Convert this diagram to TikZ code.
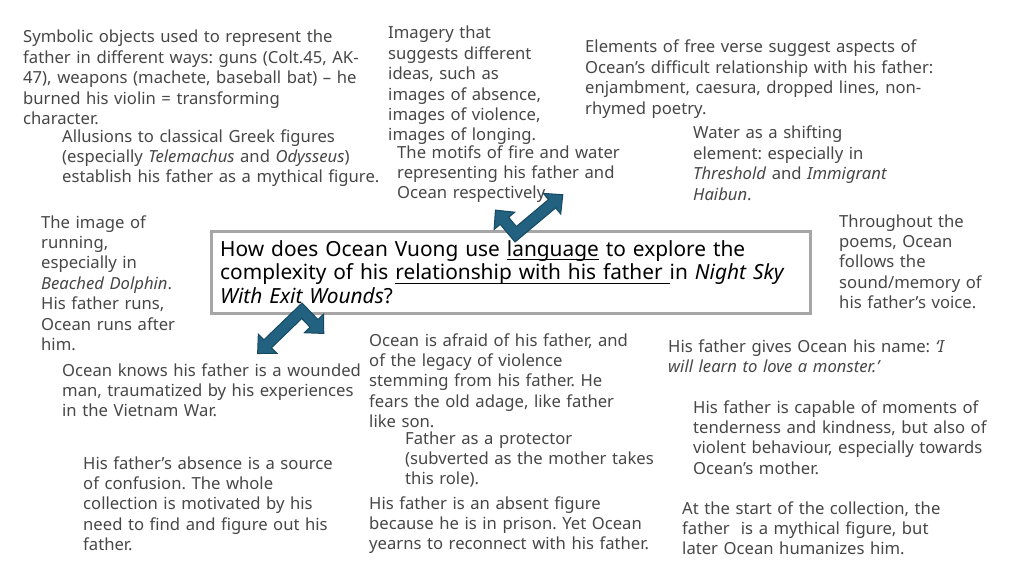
\documentclass[tikz,border=0pt]{standalone}
\usepackage{fontspec}
\setmainfont{Noto Sans}
\definecolor{txt}{HTML}{474747}
\definecolor{boxgray}{HTML}{A6A6A6}
\definecolor{arrfill}{HTML}{22617F}
\definecolor{arrline}{HTML}{174A62}
\newcommand{\bodyfont}{\frenchspacing\fontsize{16.65}{20.4}\selectfont}
\newcommand{\titlefont}{\frenchspacing\fontsize{20.85}{23.5}\selectfont}
\newcommand{\myul}[1]{\setbox0\hbox{#1}\rlap{\rule[-4pt]{\wd0}{0.9pt}}\box0{}}
\newcommand{\blockarrow}[3]{%
  \begin{scope}[shift={(#1,#2)}, x=1pt, y=1pt, rotate=#3]
    \draw[arrowshape] (0,0) -- (53,0) -- (53,-8) -- (67,5.5) -- (53,19) -- (53,11)
      -- (11,11) -- (11,23) -- (19,23) -- (5.5,37) -- (-8,23) -- (0,23) -- cycle;
  \end{scope}}
\begin{document}
\begin{tikzpicture}[x=1pt,y=-1pt,
  note/.style={anchor=base west, inner sep=0pt, text width=520pt, align=left, font=\bodyfont, text=txt},
  titletext/.style={anchor=base west, inner sep=0pt, text width=600pt, align=left, font=\titlefont, text=black},
  qbox/.style={draw=boxgray, line width=3pt, fill=white},
  arrowshape/.style={fill=arrfill, draw=arrline, line width=1pt, line join=miter}]
\useasboundingbox (0,0) rectangle (1024,575);
\fill[white] (0,0) rectangle (1024,575);

% question box
\draw[qbox] (211.5,231) rectangle (810,313);
\node[titletext] (q) at (220,256) {How does Ocean Vuong use \myul{language} to explore the\\
complexity of his \myul{relationship with his father\ }in \textit{Night Sky}\\
\textit{With Exit Wounds}?};

% notes
\node[note] (sym) at (23,43) {Symbolic objects used to represent the\\
father in different ways: guns (Colt.45, AK-\\
47), weapons (machete, baseball bat) – he\\
burned his violin = transforming\\
character.};
\node[note] (allu) at (62,142) {Allusions to classical Greek figures\\
(especially \textit{Telemachus} and \textit{Odysseus})\\
establish his father as a mythical figure.};
\node[note] (imag) at (388,39) {Imagery that\\
suggests different\\
ideas, such as\\
images of absence,\\
images of violence,\\
images of longing.};
\node[note] (motif) at (397,158) {The motifs of fire and water\\
representing his father and\\
Ocean respectively.};
\node[note] (elem) at (585,53) {Elements of free verse suggest aspects of\\
Ocean’s difficult relationship with his father:\\
enjambment, caesura, dropped lines, non-\\
rhymed poetry.};
\node[note] (water) at (693,139) {Water as a shifting\\
element: especially in\\
\textit{Threshold} and \textit{Immigrant}\\
\textit{Haibun}.};
\node[note] (run) at (41,228) {The image of\\
running,\\
especially in\\
\textit{Beached Dolphin}.\\
His father runs,\\
Ocean runs after\\
him.};
\node[note] (thru) at (839,227) {Throughout the\\
poems, Ocean\\
follows the\\
sound/memory of\\
his father’s voice.};
\node[note] (wound) at (62,376) {Ocean knows his father is a wounded\\
man, traumatized by his experiences\\
in the Vietnam War.};
\node[note] (afraid) at (369,346) {Ocean is afraid of his father, and\\
of the legacy of violence\\
stemming from his father. He\\
fears the old adage, like father\\
like son.};
\node[note] (protect) at (405,444) {Father as a protector\\
(subverted as the mother takes\\
this role).};
\node[note] (absent) at (369,509) {His father is an absent figure\\
because he is in prison. Yet Ocean\\
yearns to reconnect with his father.};
\node[note] (name) at (668,352) {His father gives Ocean his name: \textit{‘I}\\
\textit{will learn to love a monster.’}};
\node[note] (tender) at (693,413) {His father is capable of moments of\\
tenderness and kindness, but also of\\
violent behaviour, especially towards\\
Ocean’s mother.};
\node[note] (start) at (682,514) {At the start of the collection, the\\
father\ \ is a mythical figure, but\\
later Ocean humanizes him.};
\node[note] (absence) at (83,469) {His father’s absence is a source\\
of confusion. The whole\\
collection is motivated by his\\
need to find and figure out his\\
father.};

% block arrows
\blockarrow{515}{242}{40}
\blockarrow{302}{303}{224}
\end{tikzpicture}
\end{document}
